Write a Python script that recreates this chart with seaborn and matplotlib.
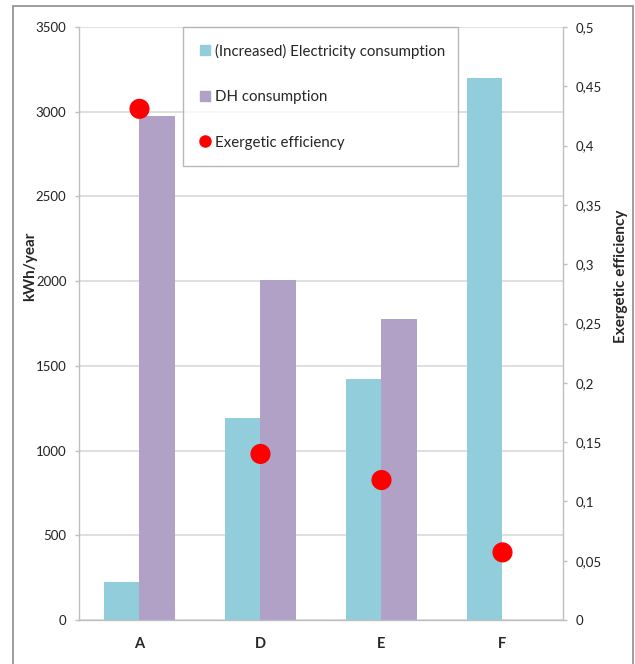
import matplotlib
matplotlib.use('Agg')
import matplotlib.pyplot as plt
import seaborn as sns
import pandas as pd
import numpy as np
from matplotlib.lines import Line2D
from matplotlib.patches import Rectangle
from matplotlib.ticker import FuncFormatter, MultipleLocator

# data
categories = ['A', 'D', 'E', 'F']
elec_consumption = [225, 1190, 1420, 3200]
dh_consumption = [2975, 2005, 1775, 0]
exergetic_eff = [0.431, 0.140, 0.118, 0.057]

series_names = ['(Increased) Electricity consumption', 'DH consumption']
eff_name = 'Exergetic efficiency'
colors = ['#92CDDC', '#B2A1C7']

sns.set_style('white')
plt.rcParams['font.family'] = ['Lato', 'DejaVu Sans']

df = pd.DataFrame({
    'case': categories * 2,
    'value': elec_consumption + dh_consumption,
    'series': [series_names[0]] * len(categories) + [series_names[1]] * len(categories),
})

fig = plt.figure(figsize=(6.35, 6.64), dpi=100)
ax = fig.add_axes([0.1244, 0.0663, 0.7622, 0.893])

sns.barplot(data=df, x='case', y='value', hue='series', order=categories,
            hue_order=series_names, palette=colors, width=0.58, gap=0,
            saturation=1, linewidth=0, ax=ax, legend=False)

ax.set_xlim(-0.5, len(categories) - 0.5)
ax.set_ylim(0, 3500)
ax.yaxis.set_major_locator(MultipleLocator(500))
ax.grid(axis='y', color='#D9D9D9', linewidth=1.2)
ax.set_axisbelow(True)
ax.set_xlabel('')
ax.set_ylabel('kWh/year', fontsize=11, fontweight='bold')
ax.yaxis.set_label_coords(-0.087, 0.597)
ax.tick_params(axis='y', length=3, width=1, color='#BFBFBF', pad=6, labelsize=9.5, labelcolor='#222222')
ax.set_xticks(np.arange(len(categories)))
ax.set_xticklabels(categories, fontweight='bold', fontsize=10.5)
ax.tick_params(axis='x', which='major', length=0, pad=12)
ax.set_xticks(np.arange(len(categories) + 1) - 0.5, minor=True)
ax.tick_params(axis='x', which='minor', length=4, width=1, color='#BFBFBF')

for side in ['left', 'right', 'bottom']:
    ax.spines[side].set_color('#BFBFBF')
    ax.spines[side].set_linewidth(1)
ax.spines['top'].set_visible(False)

ax2 = ax.twinx()
sns.scatterplot(x=np.arange(len(categories)), y=exergetic_eff, color='#FF0000',
                s=210, edgecolor='none', ax=ax2, zorder=5)
ax2.set_ylim(0, 0.5)
ax2.yaxis.set_major_locator(MultipleLocator(0.05))
ax2.yaxis.set_major_formatter(FuncFormatter(lambda v, p: ('%g' % round(v, 2)).replace('.', ',')))
ax2.set_ylabel('Exergetic efficiency', fontsize=11, fontweight='bold')
ax2.yaxis.set_label_coords(1.106, 0.580)
ax2.tick_params(axis='y', length=3, width=1, color='#BFBFBF', pad=6, labelsize=9.5, labelcolor='#222222')
for side in ['left', 'right', 'bottom', 'top']:
    ax2.spines[side].set_visible(False)

handles = [
    Line2D([], [], marker='s', linestyle='none', color=colors[0], markersize=7),
    Line2D([], [], marker='s', linestyle='none', color=colors[1], markersize=7),
    Line2D([], [], marker='o', linestyle='none', color='#FF0000', markersize=8),
]
leg = ax2.legend(handles, series_names + [eff_name], loc='upper left',
                 bbox_to_anchor=(0.215, 0.771, 0.568, 0.229), mode='expand',
                 fontsize=10.8, frameon=True, fancybox=False, edgecolor='#A6A6A6',
                 labelspacing=2.1, borderpad=1.1, handlelength=0.7,
                 handletextpad=0.3, borderaxespad=0)
leg.get_frame().set_linewidth(1)

# outer chart border
fig.patches.append(Rectangle((12.5 / 635, -0.01), (633 - 12.5) / 635, 1.01 - 6 / 664,
                             transform=fig.transFigure, fill=False,
                             edgecolor='#8C8C8C', linewidth=1.2))

fig.savefig('out.png', dpi=100)
plt.close(fig)
